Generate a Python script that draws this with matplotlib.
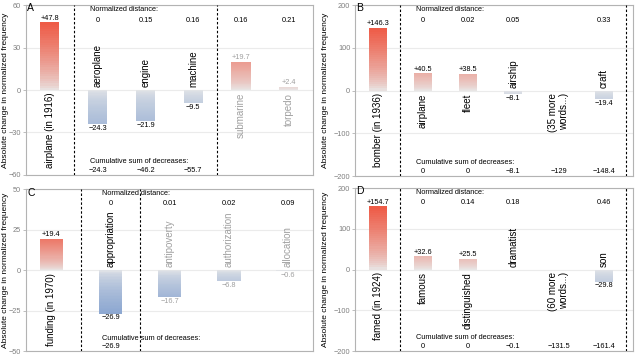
import numpy as np
import matplotlib.pyplot as plt
from matplotlib.colors import to_rgb

plt.rcParams['font.family'] = ['Liberation Sans', 'DejaVu Sans']

# panel data
A_words = ["airplane (in 1916)", "aeroplane", "engine", "machine", "submarine", "torpedo"]
A_change = [47.8, -24.3, -21.9, -9.5, 19.7, 2.4]
A_dist = [None, 0, 0.15, 0.16, 0.16, 0.21]
A_cum = [None, -24.3, -46.2, -55.7, None, None]

B_words = ["bomber (in 1936)", "airplane", "fleet", "airship", "(35 more\nwords...)", "craft"]
B_change = [146.3, 40.5, 38.5, -8.1, np.nan, -19.4]
B_dist = [None, 0, 0.02, 0.05, None, 0.33]
B_cum = [None, 0, 0, -8.1, -129, -148.4]

C_words = ["funding (in 1970)", "appropriation", "antipoverty", "authorization", "allocation"]
C_change = [19.4, -26.9, -16.7, -6.8, -0.6]
C_dist = [None, 0, 0.01, 0.02, 0.09]
C_cum = [None, -26.9, None, None, None]

D_words = ["famed (in 1924)", "famous", "distinguished", "dramatist", "(60 more\nwords...)", "son"]
D_change = [154.7, 32.6, 25.5, -0.1, np.nan, -29.8]
D_dist = [None, 0, 0.14, 0.18, None, 0.46]
D_cum = [None, 0, 0, -0.1, -131.5, -161.4]

GREY0 = np.array(to_rgb('#E8E8E8'))
RED = np.array(to_rgb('#EE5A45'))
BLUE = np.array(to_rgb('#8CA7D1'))
FADED = '#A0A0A0'


def fmt(v):
    return ("%g" % v).replace('-', '\u2212')


def col(v, L):
    t = min(abs(v) / L, 1) ** (0.7 if v > 0 else 0.55)
    end = RED if v > 0 else BLUE
    return tuple(GREY0 + (end - GREY0) * t)


def panel(rect, letter, words, change, dist, cum, cut, ylim, ystep, xlim, ylab_x):
    ax = fig.add_axes(rect)
    n = len(words)
    x = np.arange(1, n + 1)
    L = np.nanmax(np.abs(change))
    # gradient bars made of thin stacked slices
    for xi, v in zip(x, change):
        if np.isnan(v):
            continue
        N = 30
        edges = np.linspace(0, v, N + 1)
        mids = (edges[:-1] + edges[1:]) / 2
        ax.bar([xi] * N, np.diff(edges), bottom=edges[:-1], width=0.4,
               color=[col(m, L) for m in mids], linewidth=0, zorder=2)
    for i, (xi, v, w) in enumerate(zip(x, change, words)):
        c = 'black' if xi < cut else FADED
        up = (not np.isnan(v)) and v < 0
        ax.annotate(w, (xi, 0), xytext=(0, 2 if up else -2), textcoords='offset points',
                    rotation=90, ha='center', va='bottom' if up else 'top',
                    multialignment='right', fontsize=7, color=c, zorder=3)
        if not np.isnan(v) and abs(v) >= 0.5:
            ax.annotate(("+" if v > 0 else "") + fmt(v), (xi, v),
                        xytext=(0, 0.5 if v > 0 else -0.5), textcoords='offset points',
                        ha='center', va='bottom' if v > 0 else 'top',
                        fontsize=5.3, color=c, zorder=3)
        if dist[i] is not None:
            ax.text(xi, 0.91, fmt(dist[i]), transform=ax.get_xaxis_transform(),
                    ha='center', va='center', fontsize=5.3)
        if cum[i] is not None:
            ax.text(xi, 0.025, fmt(cum[i]), transform=ax.get_xaxis_transform(),
                    ha='center', va='center', fontsize=5.3)
    tr = ax.get_xaxis_transform()
    ax.text(1.85, 0.975, "Normalized distance:", transform=tr, ha='left', va='center', fontsize=5.3)
    ax.text(1.85, 0.08, "Cumulative sum of decreases:", transform=tr, ha='left', va='center', fontsize=5.3)
    for xd in (1.5, cut):
        ax.axvline(xd, color='black', lw=0.8, ls=(0, (2.2, 1.8)), zorder=4)
    ax.text(0.005, 1.01, letter, transform=ax.transAxes, ha='left', va='top', fontsize=7.5)

    ax.set_xlim(*xlim)
    ax.set_ylim(-ylim, ylim)
    ax.set_yticks(np.arange(-ylim, ylim + 1, ystep))
    ax.set_xticks([])
    ax.grid(axis='y', color='#EBEBEB', lw=0.8, zorder=0)
    ax.set_axisbelow(True)
    for s in ax.spines.values():
        s.set_color('#B3B3B3')
        s.set_linewidth(0.8)
    ax.tick_params(axis='y', labelsize=5.3, colors='#B3B3B3', labelcolor='#7F7F7F',
                   length=2.5, width=0.6, pad=1)
    ax.set_ylabel("Absolute change in normalized frequency", fontsize=6)
    ax.yaxis.set_label_coords(ylab_x, 0.5)
    return ax


fig = plt.figure(figsize=(6.4, 3.63), dpi=100)
panel([0.0406, 0.518, 0.448, 0.468], "A", A_words, A_change, A_dist, A_cum, 4.5, 60, 30, (0.5, 6.5), -0.06)
panel([0.555, 0.515, 0.434, 0.471], "B", B_words, B_change, B_dist, B_cum, 6.5, 200, 100, (0.5, 6.65), -0.094)
panel([0.0406, 0.033, 0.448, 0.446], "C", C_words, C_change, C_dist, C_cum, 2.5, 50, 25, (0.57, 5.42), -0.06)
panel([0.555, 0.033, 0.434, 0.449], "D", D_words, D_change, D_dist, D_cum, 6.5, 200, 100, (0.5, 6.65), -0.094)
fig.savefig('out.png', dpi=100)
